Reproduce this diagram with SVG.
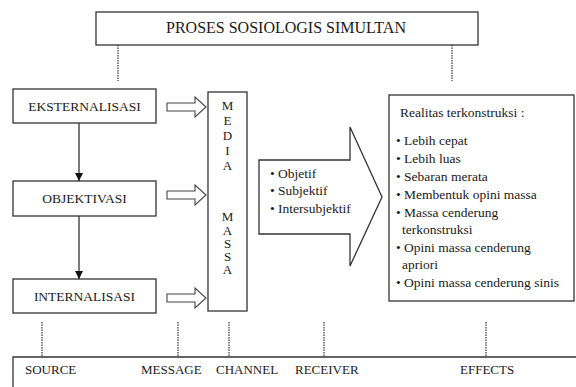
<svg xmlns="http://www.w3.org/2000/svg" width="576" height="387" viewBox="0 0 576 387" font-family="'Liberation Serif', serif">
<defs>
<style>
.box{fill:#fff;stroke:#333;stroke-width:1.3}
.t{font-family:'Liberation Serif','Times New Roman',serif;fill:#1a1a1a;font-size:13.5px}
.c{text-anchor:middle}
.m{font-size:13px}
.lab{font-size:13px}
.dot{stroke:#444;stroke-width:1.3;stroke-dasharray:1.5 1;fill:none}
.ln{stroke:#333;stroke-width:1.3;fill:none}
.harrow{fill:#fff;stroke:#444;stroke-width:1.1}
</style>
<marker id="ah" viewBox="0 0 10 10" refX="10" refY="5" markerWidth="8" markerHeight="8" markerUnits="userSpaceOnUse" orient="auto">
<path d="M0,0 L10,5 L0,10 Z" fill="#111"/>
</marker>
<path id="ha" d="M0,-4 L28,-4 L28,-10 L39,0 L28,10 L28,4 L0,4 Z"/>
</defs>

<g id="proses">
<rect class="box" x="96" y="12" width="382" height="33"/>
<text class="t c" x="286" y="33" style="font-size:16px">PROSES SOSIOLOGIS SIMULTAN</text>
</g>

<g id="eksternalisasi">
<rect class="box" x="13" y="89" width="143" height="34"/>
<text class="t c" x="84.5" y="111">EKSTERNALISASI</text>
</g>
<g id="objektivasi">
<rect class="box" x="13" y="181" width="143" height="35"/>
<text class="t c" x="84.5" y="203">OBJEKTIVASI</text>
</g>
<g id="internalisasi">
<rect class="box" x="13" y="279" width="143" height="34"/>
<text class="t c" x="84.5" y="301">INTERNALISASI</text>
</g>

<g id="media-massa">
<rect class="box" x="208" y="92" width="39" height="219"/>
<text class="t c m" x="227.5" y="110"><tspan x="227.5" y="110">M</tspan><tspan x="227.5" y="125">E</tspan><tspan x="227.5" y="140">D</tspan><tspan x="227.5" y="155">I</tspan><tspan x="227.5" y="170">A</tspan></text>
<text class="t c m" x="227.5" y="221"><tspan x="227.5" y="221">M</tspan><tspan x="227.5" y="235">A</tspan><tspan x="227.5" y="248">S</tspan><tspan x="227.5" y="261">S</tspan><tspan x="227.5" y="274">A</tspan></text>
</g>

<g id="arrow-big">
<path class="box" d="M259,160 L350,160 L350,127 L382,197 L350,266 L350,234 L259,234 Z"/>
<text class="t" x="270" y="178">• Objetif</text>
<text class="t" x="270" y="195">• Subjektif</text>
<text class="t" x="270" y="213">• Intersubjektif</text>
</g>

<g id="realitas">
<rect class="box" x="389" y="95" width="185" height="206"/>
<text class="t" x="400" y="117">Realitas terkonstruksi :</text>
<text class="t" x="396" y="145">• Lebih cepat</text>
<text class="t" x="396" y="163">• Lebih luas</text>
<text class="t" x="396" y="181">• Sebaran merata</text>
<text class="t" x="396" y="199">• Membentuk opini massa</text>
<text class="t" x="396" y="217">• Massa cenderung</text>
<text class="t" x="402" y="234">terkonstruksi</text>
<text class="t" x="396" y="252">• Opini massa cenderung</text>
<text class="t" x="402" y="269">apriori</text>
<text class="t" x="396" y="287">• Opini massa cenderung sinis</text>
</g>

<g id="komponen">
<path class="ln" d="M13,387 L13,357 L576,357"/>
<text class="t lab" x="25" y="374">SOURCE</text>
<text class="t lab" x="141" y="374">MESSAGE</text>
<text class="t lab" x="216" y="374">CHANNEL</text>
<text class="t lab" x="295" y="374">RECEIVER</text>
<text class="t lab" x="460" y="374">EFFECTS</text>
</g>

<g id="connectors">
<line class="ln" x1="79" y1="123" x2="79" y2="181" marker-end="url(#ah)"/>
<line class="ln" x1="79" y1="216" x2="79" y2="279" marker-end="url(#ah)"/>
<use href="#ha" class="harrow" x="167" y="107"/>
<use href="#ha" class="harrow" x="167" y="195"/>
<use href="#ha" class="harrow" x="167" y="298"/>
<line class="dot" x1="118" y1="45" x2="118" y2="81"/>
<line class="dot" x1="452" y1="45" x2="452" y2="81"/>
<line class="dot" x1="42" y1="322" x2="42" y2="357"/>
<line class="dot" x1="178" y1="322" x2="178" y2="357"/>
<line class="dot" x1="229" y1="322" x2="229" y2="357"/>
<line class="dot" x1="324" y1="322" x2="324" y2="357"/>
<line class="dot" x1="486" y1="322" x2="486" y2="357"/>
</g>
</svg>
